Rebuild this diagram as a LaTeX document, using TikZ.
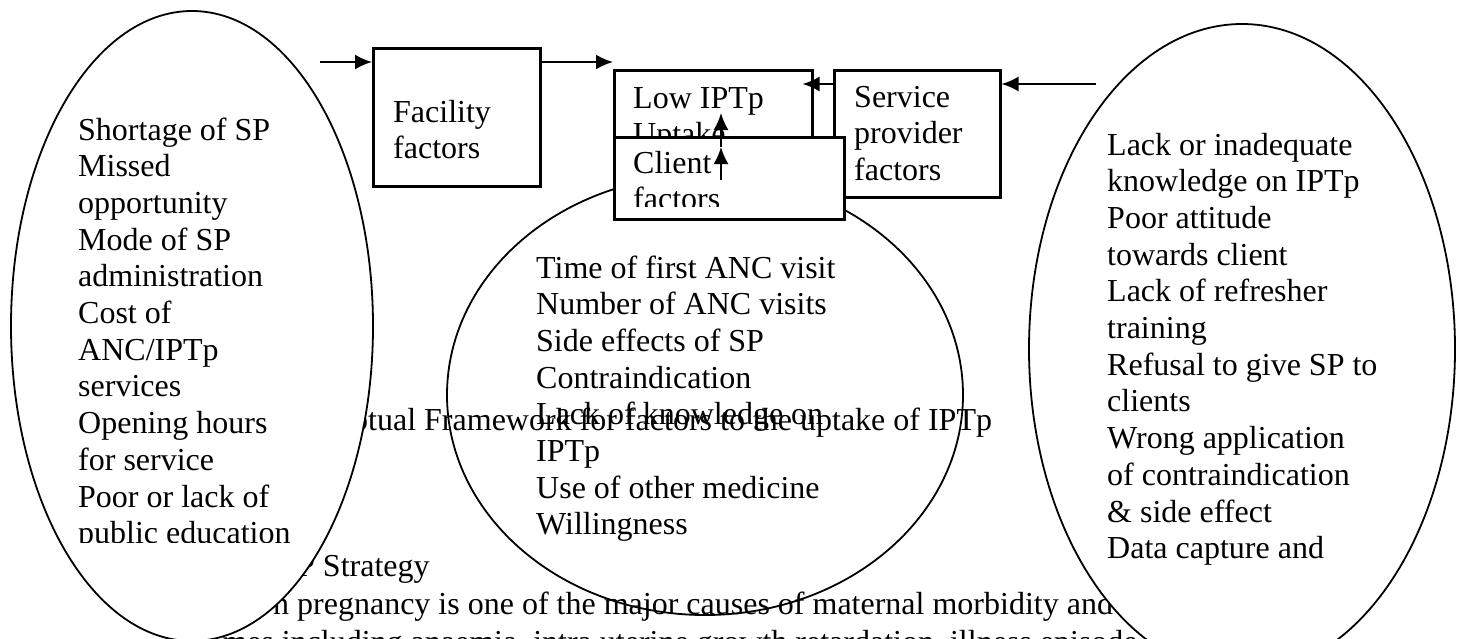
\documentclass[tikz,border=0pt]{standalone}
\usepackage{fontspec}
\setmainfont{Liberation Serif}
\usetikzlibrary{arrows.meta,positioning,shapes.geometric}
\tikzstyle{arrow} = [line width=2pt,-{Latex[length=17pt,width=15pt]}]
\tikzstyle{factorbox} = [rectangle, draw, line width=2.5pt, fill=white, anchor=north west, inner sep=0pt]
\tikzstyle{oval} = [ellipse, draw, line width=1.8pt, inner sep=0pt]
\tikzstyle{txt} = [anchor=base west, inner sep=0pt, font=\fontsize{32}{36.7}\selectfont]
\newcommand{\lines}[1]{\parbox[t]{420pt}{#1}}

\begin{document}
\begin{tikzpicture}[x=1pt, y=-1pt]
\useasboundingbox (0,0) rectangle (1461,638);

% Page text behind the figure
\node (framework) [txt] at (352,430) {ptual Framework for factors to the uptake of IPTp};
\node (strategy) [txt] at (297,576) {P Strategy};
\node (para1) [txt] at (273,614) {n pregnancy is one of the major causes of maternal morbidity and};
\node (para2) [txt] at (222,652) {mes including anaemia, intra uterine growth retardation, illness episode};

% Ovals
\node (facoval) [oval, fill=white, minimum width=362, minimum height=630] at (192,326) {};
\node (provoval) [oval, fill=white, minimum width=426, minimum height=650] at (1242,349) {};
\node (clioval) [oval, minimum width=516, minimum height=440] at (705,395) {};

% Oval texts
\begin{scope}
\clip (60,90) rectangle (380,542);
\node (factext) [txt] at (78,140) {\lines{Shortage of SP\\Missed\\opportunity\\Mode of SP\\administration\\Cost of\\ANC/IPTp\\services\\Opening hours\\for service\\Poor or lack of\\public education}};
\end{scope}
\node (clitext) [txt] at (536,278) {\lines{Time of first ANC visit\\Number of ANC visits\\Side effects of SP\\Contraindication\\Lack of knowledge on\\IPTp\\Use of other medicine\\Willingness}};
\node (provtext) [txt] at (1107,155) {\lines{Lack or inadequate\\knowledge on IPTp\\Poor attitude\\towards client\\Lack of refresher\\training\\Refusal to give SP to\\clients\\Wrong application\\of contraindication\\\& side effect\\Data capture and}};

% Boxes
\node (facility) [factorbox, minimum width=167, minimum height=138] at (372,47) {};
\node (factitle) [txt] at (393,122) {\lines{Facility\\factors}};
\node (low) [factorbox, minimum width=198, minimum height=130] at (613,69) {};
\node (lowtitle) [txt] at (633,108) {\lines{Low IPTp\\Uptake}};
\node (service) [factorbox, minimum width=166, minimum height=127] at (833,69) {};
\node (srvtitle) [txt] at (854,107) {\lines{Service\\provider\\factors}};
\node (client) [factorbox, minimum width=230, minimum height=82] at (613,136) {};
\begin{scope}
\clip (613,136) rectangle (843,206);
\node (clititle) [txt] at (633,173) {\lines{Client\\factors}};
\end{scope}

% Flows
\coordinate (facsrc) at (320,62);
\coordinate (provsrc) at (1096,84);
\coordinate (upa) at (721,180);
\coordinate (upb) at (721,147);
\coordinate (upc) at (721,113);
\draw[arrow] (facsrc) -- (facsrc -| facility.west);
\draw[arrow] (facility.east |- facsrc) -- (facsrc -| low.west);
\draw[arrow] (provsrc) -- (provsrc -| service.east);
\draw[arrow] (service.west |- provsrc) -- ([xshift=-11pt]provsrc -| low.east);
\draw[arrow] (upa) -- (upb);
\draw[arrow] (upb) -- (upc);
\end{tikzpicture}
\end{document}
